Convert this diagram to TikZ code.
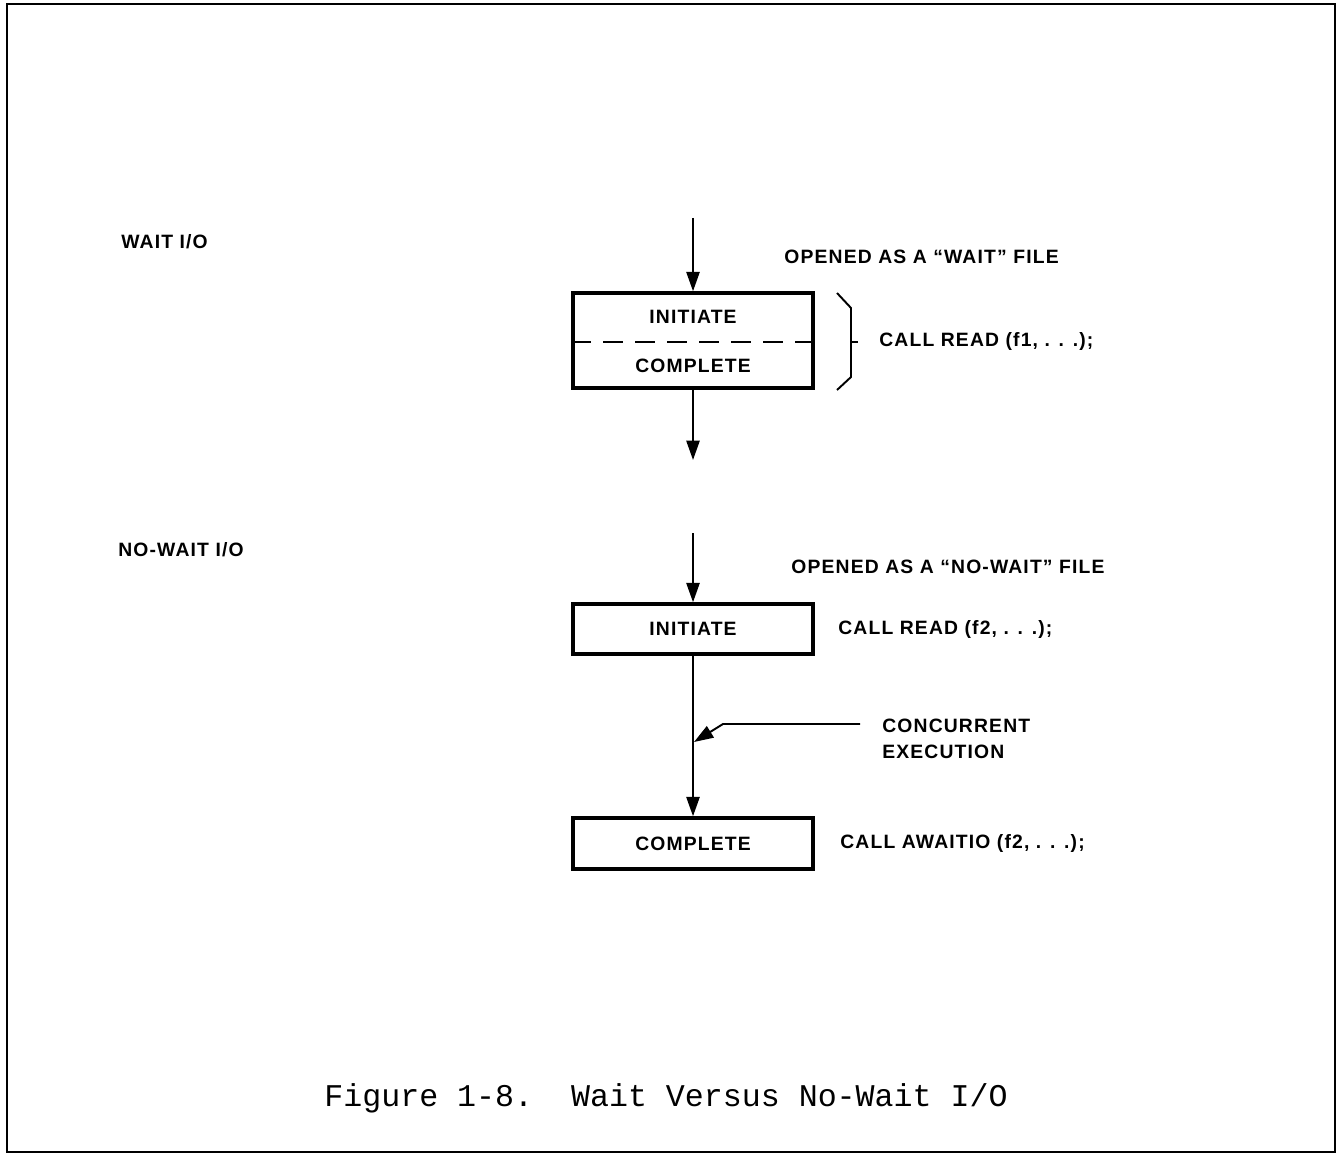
\documentclass[tikz,border=0pt]{standalone}
\usepackage{fontspec}
\setmainfont{Liberation Sans}
\setmonofont{Liberation Mono}
\newfontfamily\lblfont[LetterSpace=6]{Liberation Sans}
\usetikzlibrary{arrows.meta,positioning}

\begin{document}
\begin{tikzpicture}[x=0.02cm,y=-0.02cm,
  lbl/.style={font=\lblfont\bfseries\fontsize{11}{14.7}\selectfont, inner sep=0pt},
  iobox/.style={draw, line width=2pt, minimum width=4.8cm, inner sep=0pt},
  flow/.style={-{Triangle[length=11pt,width=7.5pt]}, line width=1.1pt}]
\useasboundingbox (0,0) rectangle (1337,1155);
\draw[line width=1pt] (7,4) rectangle (1335,1152);

% wait I/O
\node[lbl, anchor=west] (waitlbl) at (121,242) {WAIT I/O};
\node[iobox, minimum height=1.9cm] (waitbox) at (693,340.5) {};
\node[lbl] (waitinit) at (693,317) {INITIATE};
\node[lbl] (waitcomp) at (693,366) {COMPLETE};
\draw[line width=1.1pt, dash pattern=on 0.4cm off 0.24cm] (waitbox.west |- 0,342) -- (waitbox.east |- 0,342);
\coordinate (waitin) at (693,218);
\coordinate (waitout) at (693,460);
\draw[flow] (waitin) -- (waitbox.north);
\draw[flow] (waitbox.south) -- (waitout);
\node[lbl, anchor=west] (waitopen) at (784,257) {OPENED AS A “WAIT” FILE};
\draw[line width=1.1pt] (837,293) -- (851,308) -- (851,377) -- (837,390);
\draw[line width=1.1pt] (851,342) -- (858,342);
\node[lbl, anchor=west] (waitcall) at (879,342) {CALL READ (f1, . . .);};

% no-wait I/O
\node[lbl, anchor=west] (nowaitlbl) at (118,550) {NO-WAIT I/O};
\node[iobox, minimum height=1cm] (init) at (693,629) {};
\node[lbl] at (init) {INITIATE};
\node[iobox, minimum height=1.02cm] (comp) at (693,843.5) {};
\node[lbl] at (comp) {COMPLETE};
\coordinate (nowaitin) at (693,533);
\draw[flow] (nowaitin) -- (init.north);
\draw[flow] (init.south) -- (comp.north);
\node[lbl, anchor=west] (nowaitopen) at (791,567) {OPENED AS A “NO-WAIT” FILE};
\node[lbl, anchor=west] (initcall) at (838,629) {CALL READ (f2, . . .);};
\node[lbl, anchor=west] (compcall) at (840,843.5) {CALL AWAITIO (f2, . . .);};
\node[lbl, anchor=west, align=left] (conc) at (882,739) {CONCURRENT\\EXECUTION};
\coordinate (concstart) at (860,724);
\coordinate (conctip) at (694,742);
\draw[flow] (concstart) -- (723,724) -- (conctip);

\node[font=\ttfamily\fontsize{18}{20}\selectfont] (caption) at (666,1098) {Figure 1-8.\ \ Wait Versus No-Wait I/O};
\end{tikzpicture}
\end{document}
